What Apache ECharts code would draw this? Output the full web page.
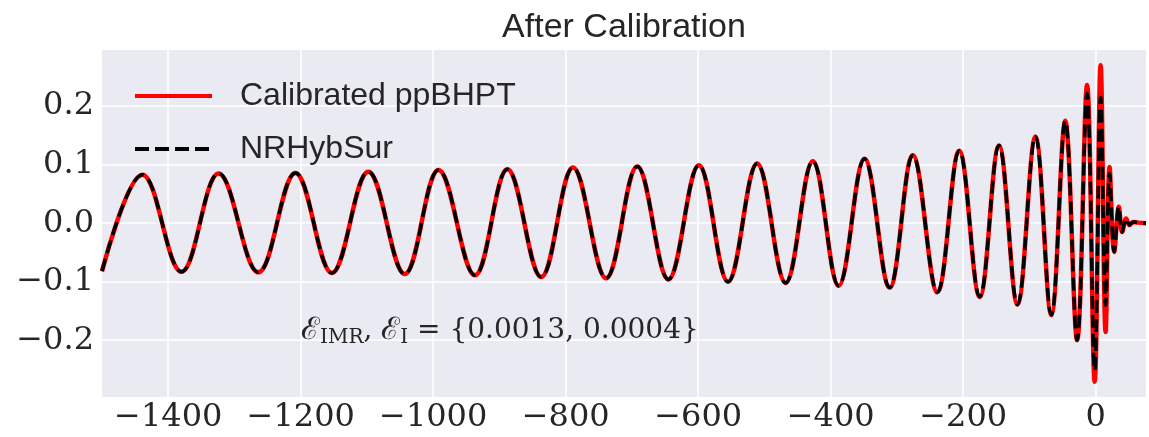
<!DOCTYPE html>
<html>
<head>
<meta charset="utf-8">
<script src="https://cdn.jsdelivr.net/npm/echarts@6.0.0/dist/echarts.min.js"></script>
<style>
  html, body { margin: 0; padding: 0; background: #fff; }
  #main { width: 1149px; height: 437px; }
</style>
</head>
<body>
<div id="main"></div>
<script>
// time (M) of each read-off extremum of the waveform, plus the two ends
const time = [
  -1500, -1439, -1380, -1324, -1264, -1208, -1153, -1098, -1043, -992,
  -937, -888, -837, -789, -739, -692, -645, -599, -555, -511,
  -468, -427, -388, -349, -311, -276, -239, -206, -175, -146,
  -118, -91, -67, -46, -28, -13, -1.5, 7.5, 15, 21,
  28, 35, 40, 46, 51, 57, 64, 76
];
// Calibrated ppBHPT
const hCal = [
  -0.082, 0.083, -0.083, 0.085, -0.084, 0.086, -0.085, 0.088, -0.087, 0.091,
  -0.089, 0.092, -0.092, 0.095, -0.094, 0.097, -0.096, 0.099, -0.100, 0.102,
  -0.102, 0.106, -0.107, 0.110, -0.110, 0.116, -0.118, 0.124, -0.126, 0.133,
  -0.139, 0.148, -0.157, 0.175, -0.200, 0.236, -0.271, 0.270, -0.186, 0.096,
  -0.049, 0.028, -0.015, 0.008, -0.003, 0.002, 0.001, 0
];
// NRHybSur
const hNR = [
  -0.082, 0.083, -0.083, 0.085, -0.084, 0.086, -0.085, 0.088, -0.087, 0.091,
  -0.089, 0.092, -0.092, 0.095, -0.094, 0.097, -0.096, 0.099, -0.100, 0.102,
  -0.102, 0.106, -0.107, 0.110, -0.110, 0.116, -0.118, 0.124, -0.126, 0.133,
  -0.139, 0.148, -0.157, 0.175, -0.200, 0.222, -0.252, 0.215, -0.140, 0.085,
  -0.049, 0.028, -0.015, 0.008, -0.003, 0.002, 0.001, 0
];
const xTicks = [-1400, -1200, -1000, -800, -600, -400, -200, 0];
const yTicks = [-0.2, -0.1, 0, 0.1, 0.2];

const textColor = '#262626';
const minus = v => String(v).replace('-', '\u2212');

let myChart = echarts.init(document.getElementById('main'));
myChart.setOption({
    animation: false,
    backgroundColor: '#fff',
    title: {
        text: 'After Calibration',
        left: 624,
        textAlign: 'center',
        top: 11,
        padding: 0,
        textStyle: {
            color: textColor,
            fontFamily: 'Liberation Sans',
            fontWeight: 'normal',
            fontSize: 34
        }
    },
    legend: {
        orient: 'vertical',
        left: 133,
        top: 76,
        padding: 0,
        itemGap: 13,
        itemWidth: 77,
        itemHeight: 14,
        itemStyle: { opacity: 0 },
        textStyle: {
            color: textColor,
            fontFamily: 'Liberation Sans',
            fontSize: 32,
            lineHeight: 40,
            padding: [0, 0, 0, 23]
        },
        data: [
            { name: 'Calibrated ppBHPT', lineStyle: { width: 4, color: '#ff0000' } },
            { name: 'NRHybSur', lineStyle: { width: 4, color: '#000', type: [14, 6] } }
        ]
    },
    grid: {
        left: 102,
        right: 3,
        top: 50,
        bottom: 40,
        show: true,
        backgroundColor: '#EAEAF2',
        borderWidth: 0
    },
    xAxis: {
        type: 'value',
        min: -1500,
        max: 76,
        axisLine: { show: false },
        axisTick: { show: false, customValues: xTicks },
        splitLine: { lineStyle: { color: '#fff', width: 1.5 } },
        axisLabel: {
            customValues: xTicks,
            margin: 5,
            color: textColor,
            fontFamily: 'DejaVu Serif',
            fontSize: 32,
            formatter: minus
        }
    },
    yAxis: {
        type: 'value',
        min: -0.297,
        max: 0.296,
        axisLine: { show: false },
        axisTick: { show: false, customValues: yTicks },
        splitLine: { lineStyle: { color: '#fff', width: 1.5 } },
        axisLabel: {
            customValues: yTicks,
            margin: 8,
            color: textColor,
            fontFamily: 'DejaVu Serif',
            fontSize: 32,
            formatter: v => minus(v.toFixed(1))
        }
    },
    graphic: [{
        type: 'text',
        left: 301,
        top: 314,
        z: 100,
        style: {
            text: '{e|\u2130}{s|IMR}, {e|\u2130}{s|I} = {0.0013, 0.0004}',
            fill: textColor,
            font: '28px "DejaVu Serif"',
            lineHeight: 34,
            rich: {
                e: { fontFamily: 'DejaVu Serif', fontSize: 31, lineHeight: 34, fill: textColor },
                s: { fontFamily: 'DejaVu Serif', fontSize: 20, lineHeight: 20, verticalAlign: 'bottom', fill: textColor }
            }
        }
    }],
    series: [{
        name: 'Calibrated ppBHPT',
        type: 'line',
        symbol: 'none',
        smooth: 0.38,
        itemStyle: { color: '#ff0000' },
        lineStyle: { color: '#ff0000', width: 4.5 },
        data: time.map((t, i) => [t, hCal[i]])
    }, {
        name: 'NRHybSur',
        type: 'line',
        symbol: 'none',
        smooth: 0.38,
        itemStyle: { color: '#000' },
        lineStyle: { color: '#000', width: 3.5, type: [13, 6] },
        data: time.map((t, i) => [t, hNR[i]])
    }]
});
</script>
</body>
</html>
